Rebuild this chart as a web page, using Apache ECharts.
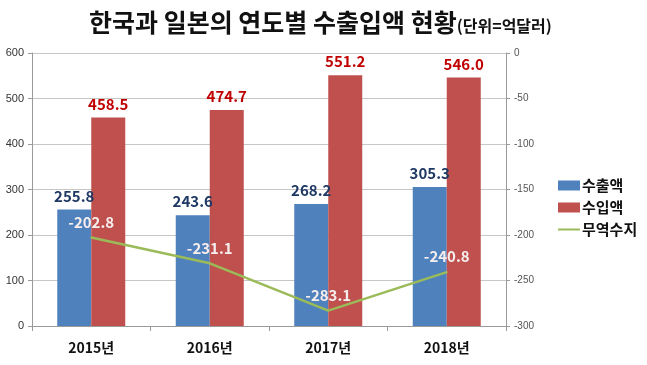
<!DOCTYPE html>
<html><head><meta charset="utf-8">
<script src="https://cdn.jsdelivr.net/npm/echarts@6/dist/echarts.min.js"></script>
<style>html,body{margin:0;padding:0;background:#fff}#c{width:647px;height:365px}</style>
</head><body><div id="c"></div>
<script>
const categories = ['2015년', '2016년', '2017년', '2018년'];
const exportsVals = [255.8, 243.6, 268.2, 305.3];
const importsVals = [458.5, 474.7, 551.2, 546.0];
const balanceVals = [-202.8, -231.1, -283.1, -240.8];
const leftTicks = { min: 0, max: 600, interval: 100 };
const rightTicks = { min: -300, max: 0, interval: 50 };

const FONT = '"Noto Sans CJK KR", "Noto Sans", sans-serif';
const chart = echarts.init(document.getElementById('c'));
chart.setOption({
  animation: false,
  textStyle: { fontFamily: FONT },
  title: {
    text: '{m|한국과 일본의 연도별 수출입액 현황}{s|(단위=억달러)}',
    left: 84, top: 5,
    textStyle: {
      rich: {
        m: { fontSize: 25, fontWeight: 'bold', color: '#111', fontFamily: FONT },
        s: { fontSize: 16, fontWeight: 'bold', color: '#111', fontFamily: FONT, padding: [6, 0, 0, 0] }
      }
    }
  },
  legend: {
    orient: 'vertical', left: 552, top: 173, itemGap: 7,
    itemWidth: 22, itemHeight: 10,
    textStyle: { fontSize: 15, fontWeight: 'bold', color: '#111', fontFamily: FONT, padding: [0, 0, 0, -3] },
    data: [
      { name: '수출액', icon: 'rect' },
      { name: '수입액', icon: 'rect' },
      { name: '무역수지', itemStyle: { opacity: 0 } }
    ]
  },
  grid: { left: 32, right: 141, top: 53, bottom: 39, containLabel: false },
  xAxis: {
    type: 'category', data: categories,
    axisLine: { lineStyle: { color: '#9a9a9a' } },
    axisTick: { show: true, length: 5, lineStyle: { color: '#9a9a9a' } },
    axisLabel: { fontSize: 14, fontWeight: 'bold', color: '#111', margin: 15, fontFamily: FONT }
  },
  yAxis: [
    {
      type: 'value', min: leftTicks.min, max: leftTicks.max, interval: leftTicks.interval,
      axisLine: { show: true, lineStyle: { color: '#9a9a9a' } },
      axisTick: { show: true, length: 4, lineStyle: { color: '#9a9a9a' } },
      axisLabel: { fontSize: 11, color: '#333', margin: 8, fontFamily: '"Liberation Sans", sans-serif', align: 'right' },
      splitLine: { show: true, lineStyle: { color: '#c6c6c6' } }
    },
    {
      type: 'value', min: rightTicks.min, max: rightTicks.max, interval: rightTicks.interval,
      axisLine: { show: true, lineStyle: { color: '#9a9a9a' } },
      axisTick: { show: true, length: 4, lineStyle: { color: '#9a9a9a' } },
      axisLabel: { fontSize: 10, color: '#555', margin: 8, fontFamily: '"Liberation Sans", sans-serif' },
      splitLine: { show: false }
    }
  ],
  series: [
    {
      name: '수출액', type: 'bar', data: exportsVals, yAxisIndex: 0,
      barWidth: 34, barGap: '0%',
      itemStyle: { color: '#4F81BD' },
      label: { show: true, position: 'top', distance: 6, fontSize: 15, fontWeight: 'bold', color: '#1F3864', fontFamily: FONT, formatter: p => p.value.toFixed(1) }
    },
    {
      name: '수입액', type: 'bar', data: importsVals, yAxisIndex: 0,
      barWidth: 34, barGap: '0%',
      itemStyle: { color: '#C0504D' },
      label: { show: true, position: 'top', distance: 6, fontSize: 15, fontWeight: 'bold', color: '#C00000', fontFamily: FONT, formatter: p => p.value.toFixed(1) }
    },
    {
      name: '무역수지', type: 'line', data: balanceVals, yAxisIndex: 1,
      symbol: 'circle', symbolSize: 2, showSymbol: true,
      lineStyle: { color: '#9BBB59', width: 2.5 },
      itemStyle: { color: '#9BBB59' },
      label: { show: true, position: 'top', distance: 7, fontSize: 15, fontWeight: 'bold', color: '#F6EEEE', fontFamily: FONT, formatter: p => p.value.toFixed(1) }
    }
  ]
});
</script></body></html>
